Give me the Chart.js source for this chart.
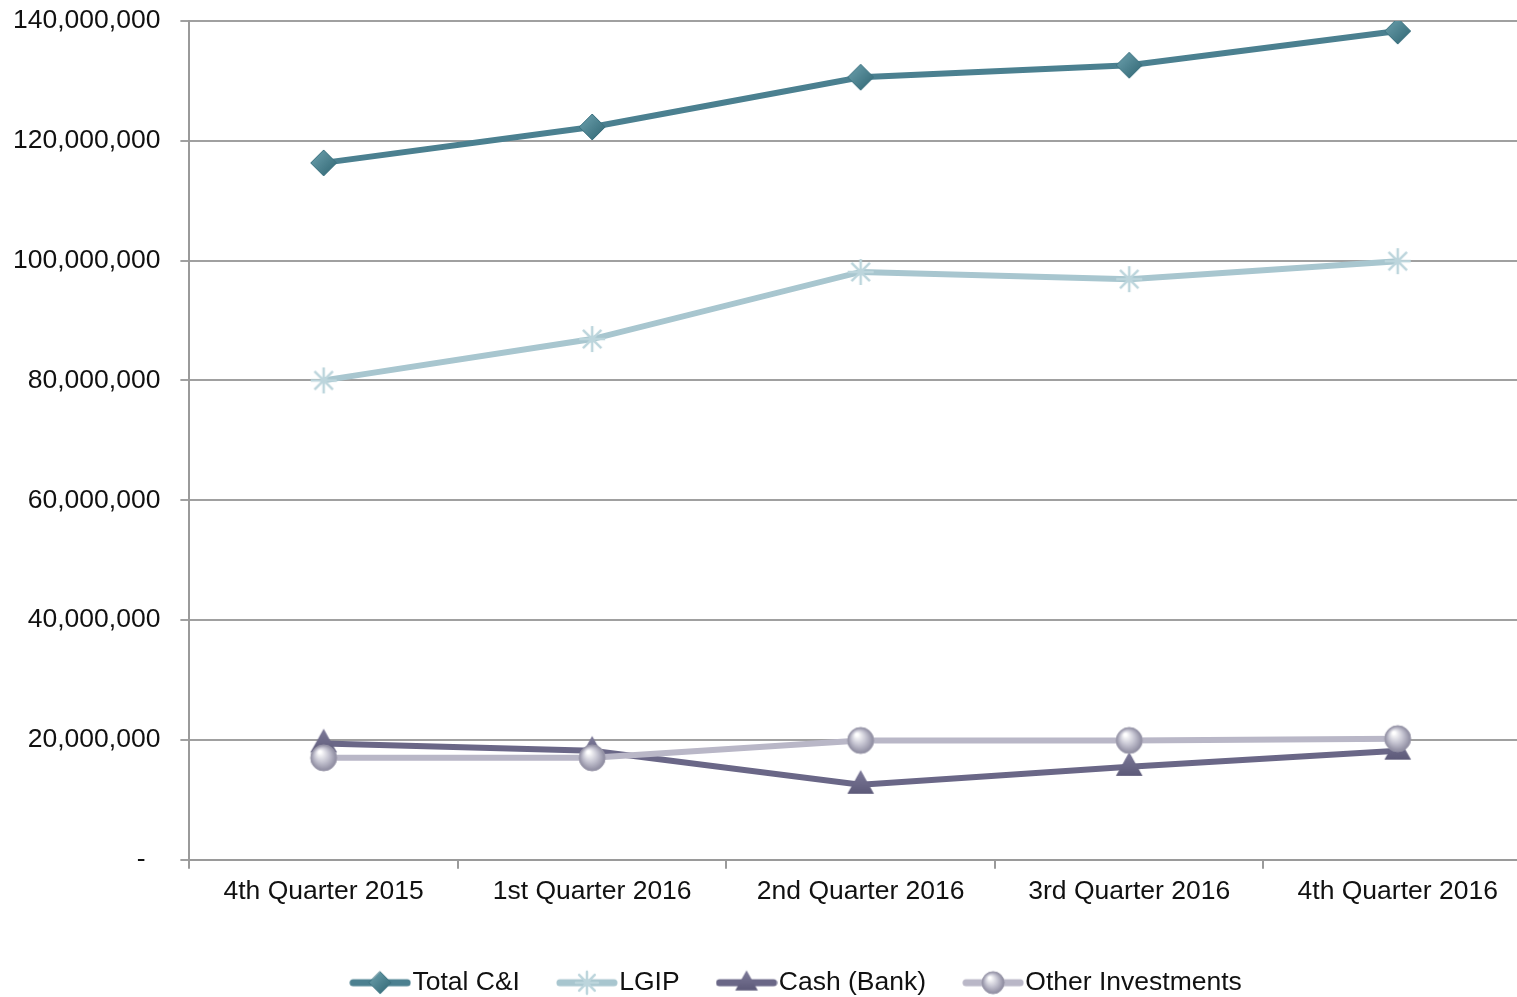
<!DOCTYPE html>
<html>
<head>
<meta charset="utf-8">
<script src="https://cdn.jsdelivr.net/npm/chart.js@4.4.1/dist/chart.umd.min.js"></script>
<style>
  html, body { margin: 0; padding: 0; background: #fff; overflow: hidden; }
  canvas { display: block; margin-left: -7px; margin-top: -15px; }
</style>
</head>
<body>
<canvas id="chart" width="1604" height="1021"></canvas>
<script>
const quarters = ['4th Quarter 2015', '1st Quarter 2016', '2nd Quarter 2016', '3rd Quarter 2016', '4th Quarter 2016'];
const totalCI = [116300000, 122300000, 130600000, 132600000, 138300000];
const lgip = [80000000, 86900000, 98100000, 96900000, 99900000];
const cashBank = [19400000, 18200000, 12500000, 15500000, 18200000];
const otherInvestments = [17000000, 17000000, 19900000, 19900000, 20200000];
const yTicks = [0, 20000000, 40000000, 60000000, 80000000, 100000000, 120000000, 140000000];

const FONT = '"Liberation Sans", Arial, sans-serif';
const FONT_SIZE = 26.5;

// marker drawing helpers, reused for the plot and the legend swatches
function drawDiamond(ctx, x, y, r) {
  const g = ctx.createLinearGradient(x - r, y - r, x + r, y + r);
  g.addColorStop(0, '#6fa3b0');
  g.addColorStop(1, '#2f6572');
  ctx.fillStyle = g;
  ctx.beginPath();
  ctx.moveTo(x, y - r); ctx.lineTo(x + r, y); ctx.lineTo(x, y + r); ctx.lineTo(x - r, y);
  ctx.closePath(); ctx.fill();
  ctx.strokeStyle = '#3c7280'; ctx.lineWidth = 1; ctx.stroke();
}
function drawStar(ctx, x, y, r) {
  ctx.strokeStyle = '#bcd5dc'; ctx.lineWidth = 2.5;
  ctx.beginPath();
  for (let i = 0; i < 4; i++) {
    const a = i * Math.PI / 4;
    ctx.moveTo(x - r * Math.cos(a), y - r * Math.sin(a));
    ctx.lineTo(x + r * Math.cos(a), y + r * Math.sin(a));
  }
  ctx.stroke();
}
function drawTriangle(ctx, x, y, r) {
  const g = ctx.createLinearGradient(x, y - r, x, y + r);
  g.addColorStop(0, '#7d7a99');
  g.addColorStop(1, '#565372');
  ctx.fillStyle = g;
  ctx.beginPath();
  ctx.moveTo(x, y - r * 1.05); ctx.lineTo(x + r * 0.95, y + r * 0.65); ctx.lineTo(x - r * 0.95, y + r * 0.65);
  ctx.closePath(); ctx.fill();
}
function drawSphere(ctx, x, y, r) {
  const g = ctx.createRadialGradient(x - r * 0.3, y - r * 0.45, r * 0.1, x, y, r);
  g.addColorStop(0, '#ffffff');
  g.addColorStop(0.5, '#c6c5d2');
  g.addColorStop(1, '#8b899e');
  ctx.fillStyle = g;
  ctx.beginPath(); ctx.arc(x, y, r, 0, Math.PI * 2); ctx.fill();
  ctx.strokeStyle = '#9896a8'; ctx.lineWidth = 1; ctx.stroke();
}

function makeImage(w, h, fn) {
  const c = document.createElement('canvas');
  c.width = w; c.height = h;
  fn(c.getContext('2d'), w, h);
  return c;
}
function marker(draw, r) {
  const s = Math.ceil(r * 2 + 6);
  return makeImage(s, s, (ctx, w, h) => draw(ctx, w / 2, h / 2, r));
}
function swatch(color, draw, r) {
  return makeImage(62, 30, (ctx, w, h) => {
    ctx.strokeStyle = color; ctx.lineWidth = 7; ctx.lineCap = 'round';
    ctx.beginPath(); ctx.moveTo(4, h / 2); ctx.lineTo(w - 4, h / 2); ctx.stroke();
    draw(ctx, w / 2, h / 2, r);
  });
}

const series = [
  { label: 'Total C&I', data: totalCI, color: '#4b8090', draw: drawDiamond, r: 13, order: 4 },
  { label: 'LGIP', data: lgip, color: '#a8c6cf', draw: drawStar, r: 13, order: 3 },
  { label: 'Cash (Bank)', data: cashBank, color: '#6a6787', draw: drawTriangle, r: 14, order: 2 },
  { label: 'Other Investments', data: otherInvestments, color: '#b9b7c7', draw: drawSphere, r: 13, order: 1 }
];

const datasets = series.map(s => ({
  label: s.label,
  data: s.data,
  borderColor: s.color,
  borderWidth: 6,
  pointStyle: marker(s.draw, s.r),
  legendImage: swatch(s.color, s.draw, s.r * 0.85),
  order: s.order,
  tension: 0
}));

// nudge the legend row to the right after layout
const legendShift = {
  id: 'legendShift',
  afterUpdate(chart) {
    chart.legend.left += 39;
    chart.legend.right += 39;
  }
};

new Chart(document.getElementById('chart'), {
  type: 'line',
  data: { labels: quarters, datasets: datasets },
  plugins: [legendShift],
  options: {
    responsive: false,
    animation: false,
    layout: { padding: { left: 0, right: 65, top: 0, bottom: 0 } },
    plugins: {
      tooltip: { enabled: false },
      legend: {
        position: 'bottom',
        labels: {
          color: '#111',
          font: { family: FONT, size: FONT_SIZE },
          usePointStyle: true,
          pointStyleWidth: 38,
          padding: 48,
          generateLabels: chart => chart.data.datasets.map((ds, i) => ({
            text: ds.label,
            pointStyle: ds.legendImage,
            datasetIndex: i,
            fontColor: '#111',
            lineWidth: 0,
            hidden: false
          }))
        }
      }
    },
    scales: {
      x: {
        offset: true,
        afterFit: axis => { axis.height += 7; },
        grid: { offset: true, drawOnChartArea: false, color: '#9a9a9a', lineWidth: 2, tickLength: 9 },
        border: { color: '#9a9a9a', width: 2 },
        ticks: { color: '#111', font: { family: FONT, size: FONT_SIZE }, padding: 7, maxRotation: 0, autoSkip: false }
      },
      y: {
        min: 0,
        max: 140000000,
        afterBuildTicks: axis => { axis.ticks = yTicks.map(v => ({ value: v })); },
        grid: { color: '#a0a0a0', lineWidth: 2, tickLength: 9 },
        border: { color: '#9a9a9a', width: 2 },
        ticks: {
          color: '#111',
          font: { family: FONT, size: FONT_SIZE },
          padding: 20,
          callback: v => v === 0 ? '-  ' : v.toLocaleString('en-US')
        }
      }
    }
  }
});
</script>
</body>
</html>
